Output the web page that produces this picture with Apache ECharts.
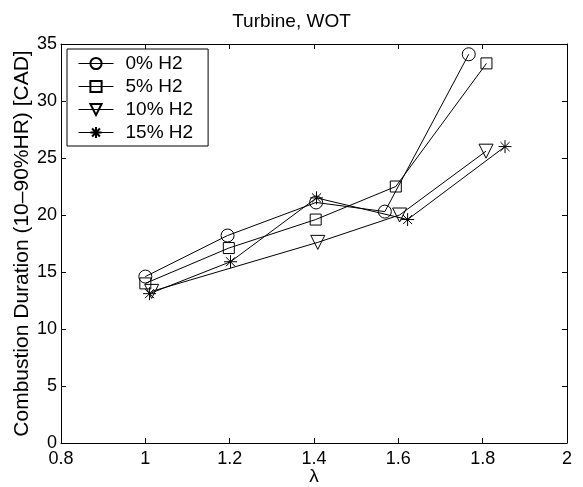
<!DOCTYPE html>
<html>
<head>
<meta charset="utf-8">
<script src="https://cdn.jsdelivr.net/npm/echarts@6/dist/echarts.min.js"></script>
<style>
  html, body { margin: 0; padding: 0; background: #fff; }
  #chart { width: 583px; height: 487px; }
</style>
</head>
<body>
<div id="chart"></div>
<script>
  // lambda / duration pairs
  const seriesNames = ['0% H2', '5% H2', '10% H2', '15% H2'];
  const h2_0 = [[1.0, 14.6], [1.195, 18.2], [1.405, 21.1], [1.568, 20.3], [1.767, 34.1]];
  const h2_5 = [[1.0, 14.0], [1.198, 17.1], [1.404, 19.6], [1.594, 22.5], [1.809, 33.3]];
  const h2_10 = [[1.015, 13.3], [1.409, 17.6], [1.603, 20.0], [1.808, 25.6]];
  const h2_15 = [[1.01, 13.1], [1.202, 15.9], [1.406, 21.5], [1.622, 19.6], [1.853, 26.0]];
  const xTicks = { min: 0.8, max: 2, step: 0.2 };
  const yTicks = { min: 0, max: 35, step: 5 };

  const font = 'Liberation Sans, Arial, Helvetica, sans-serif';
  const star = 'path://M0,-10L0,10M-10,0L10,0M-7,-7L7,7M-7,7L7,-7';

  const marks = [
    { data: h2_0, symbol: 'circle', size: 13, rotate: 0 },
    { data: h2_5, symbol: 'rect', size: 11, rotate: 0 },
    { data: h2_10, symbol: 'triangle', size: 14, rotate: 180 },
    { data: h2_15, symbol: star, size: 13, rotate: 0 }
  ];

  const chart = echarts.init(document.getElementById('chart'));

  const baseAxis = (pos, showLabel, margin) => ({
    axisLine: { show: true, onZero: false, lineStyle: { color: '#000', width: 1 } },
    axisTick: { show: true, inside: true, length: 5, lineStyle: { color: '#000' } },
    axisLabel: { show: showLabel, color: '#000', fontSize: 18, fontFamily: font, margin: margin },
    splitLine: { show: false },
    position: pos
  });

  chart.setOption({
    animation: false,
    backgroundColor: '#fff',
    title: {
      text: 'Turbine, WOT', left: 'center', top: 7,
      textStyle: { fontSize: 19, fontWeight: 'normal', color: '#000', fontFamily: font }
    },
    grid: { left: 61, right: 16, top: 44, bottom: 44, containLabel: false, outerBoundsMode: 'none' },
    legend: {
      orient: 'vertical', left: 67, top: 49,
      padding: [5, 15, 4, 11], itemGap: 4, itemWidth: 35, itemHeight: 14,
      borderColor: '#000', borderWidth: 1, backgroundColor: '#fff',
      lineStyle: { width: 1 },
      textStyle: { fontSize: 19, color: '#000', fontFamily: font, padding: [0, 0, 0, 7] },
      data: seriesNames
    },
    xAxis: [
      Object.assign(baseAxis('bottom', true, 7), {
        type: 'value', min: xTicks.min, max: xTicks.max, interval: xTicks.step,
        name: 'λ', nameLocation: 'middle', nameGap: 24, nameMoveOverlap: false,
        nameTextStyle: { fontSize: 19, color: '#000', fontFamily: font }
      }),
      Object.assign(baseAxis('top', false, 4), {
        type: 'value', min: xTicks.min, max: xTicks.max, interval: xTicks.step
      })
    ],
    yAxis: [
      Object.assign(baseAxis('left', true, 4), {
        type: 'value', min: yTicks.min, max: yTicks.max, interval: yTicks.step,
        name: 'Combustion Duration (10–90%HR) [CAD]', nameLocation: 'middle', nameGap: 28,
        nameMoveOverlap: false,
        nameTextStyle: { fontSize: 21, color: '#000', fontFamily: font }
      }),
      Object.assign(baseAxis('right', false, 4), {
        type: 'value', min: yTicks.min, max: yTicks.max, interval: yTicks.step
      })
    ],
    series: marks.map((m, i) => ({
      name: seriesNames[i],
      type: 'line',
      data: m.data,
      symbol: m.symbol,
      symbolSize: m.size,
      symbolRotate: m.rotate,
      lineStyle: { color: '#000', width: 1 },
      itemStyle: { color: 'rgba(0,0,0,0)', borderColor: '#000', borderWidth: 1 },
      emphasis: { disabled: true }
    }))
  });
</script>
</body>
</html>
